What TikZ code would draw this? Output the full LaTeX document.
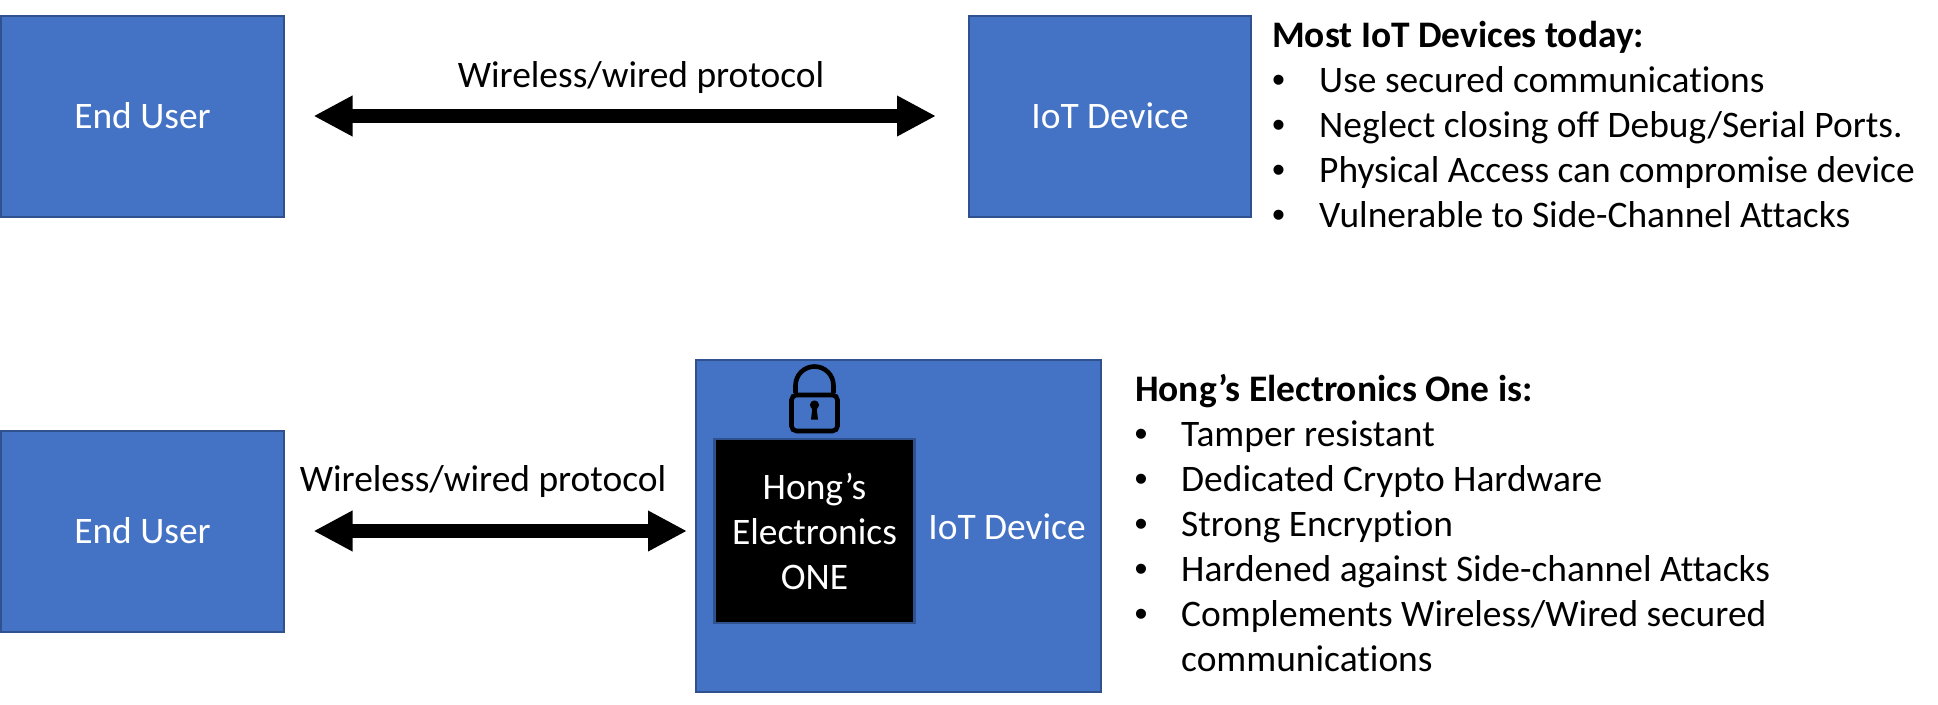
\documentclass[tikz,border=0pt]{standalone}
\usepackage{fontspec}
\setmainfont{Carlito}[Ligatures=NoCommon]
\newfontfamily\bulletfont{Liberation Sans}
\usetikzlibrary{arrows.meta}
\definecolor{boxfill}{HTML}{4472C4}
\definecolor{boxline}{HTML}{2F528F}
\newcommand{\txtsize}{\fontsize{37.45}{45}\selectfont}
\tikzset{
  bluebox/.style={draw=boxline,fill=boxfill,line width=2pt,inner sep=0pt,outer sep=0pt,text=white,font=\txtsize,align=center},
  blackbox/.style={draw=boxline,fill=black,line width=2.4pt,inner sep=0pt,outer sep=0pt,text=white,font=\txtsize,align=center},
  whitetext/.style={text=white,inner sep=0pt,font=\txtsize,align=center},
  plain/.style={inner sep=0pt,font=\txtsize,anchor=base west},
  bulletmark/.style={inner sep=0pt,font=\fontsize{37}{37}\selectfont\bulletfont,anchor=base west},
  label/.style={inner sep=0pt,font=\txtsize,anchor=base},
  heading/.style={plain,font=\txtsize\bfseries},
  dblarrow/.style={line width=14pt,{Triangle[length=39pt,width=38pt]}-{Triangle[length=39pt,width=38pt]}},
  lockline/.style={line width=4.6pt,draw=black}
}
\begin{document}
\begin{tikzpicture}[x=1pt,y=-1pt]
\useasboundingbox (0,0) rectangle (1938,704);
% top row
\node[bluebox,minimum width=283pt,minimum height=201pt] (eu1) at (142.5,116) {End User};
\node[bluebox,minimum width=282pt,minimum height=201pt] (iot1) at (1110,116) {IoT Device};
\draw[dblarrow,shorten <=29.5pt,shorten >=33pt] (eu1.east) -- (iot1.west);
\node[label] (lab1) at (641,87.5) {Wireless/wired protocol};
% bottom row
\node[bluebox,minimum width=283pt,minimum height=201pt] (eu2) at (142.5,531) {End User};
\node[bluebox,minimum width=405pt,minimum height=332pt] (iot2) at (898.5,526) {};
\node[whitetext] (iot2t) at (1007,526.5) {IoT Device};
\node[blackbox,minimum width=200pt,minimum height=184pt] (hong) at (814.5,531) {Hong’s\\Electronics\\ONE};
\coordinate (iot2w) at (iot2.west |- eu2.east);
\draw[dblarrow,shorten <=29.5pt,shorten >=9pt] (eu2.east) -- (iot2w);
\node[label] (lab2) at (483,491.5) {Wireless/wired protocol};
% lock
\draw[lockline] (795.5,393) -- (795.5,385.5) arc[start angle=180,end angle=360,x radius=19,y radius=19] -- (833.5,393);
\draw[lockline,rounded corners=5pt] (791.5,395) rectangle (837.5,431);
\fill (814.5,405) circle[radius=4.6];
\fill (812.5,407) -- (816.5,407) -- (818,419.5) -- (811,419.5) -- cycle;
% top list
\node[heading] (h1) at (1272,47.5) {Most IoT Devices today:};
\foreach \nm/\yy/\tx in {a/92.5/{Use secured communications},b/137.5/{Neglect closing off Debug/Serial Ports.},c/182.5/{Physical Access can compromise device},d/227.5/{Vulnerable to Side-Channel Attacks}}{
  \node[bulletmark] (bul\nm) at (1272,\yy) {•};
  \node[plain] (it\nm) at (1319,\yy) {\tx};
}
% bottom list
\node[heading] (h2) at (1135,401.5) {Hong’s Electronics One is:};
\foreach \nm/\yy/\tx in {e/446.5/{Tamper resistant},f/491.5/{Dedicated Crypto Hardware},g/536.5/{Strong Encryption},h/581.5/{Hardened against Side-channel Attacks},i/626.5/{Complements Wireless/Wired secured}}{
  \node[bulletmark] (bul\nm) at (1134.5,\yy) {•};
  \node[plain] (it\nm) at (1181,\yy) {\tx};
}
\node[plain] (itj) at (1181,671.5) {communications};
\end{tikzpicture}
\end{document}
